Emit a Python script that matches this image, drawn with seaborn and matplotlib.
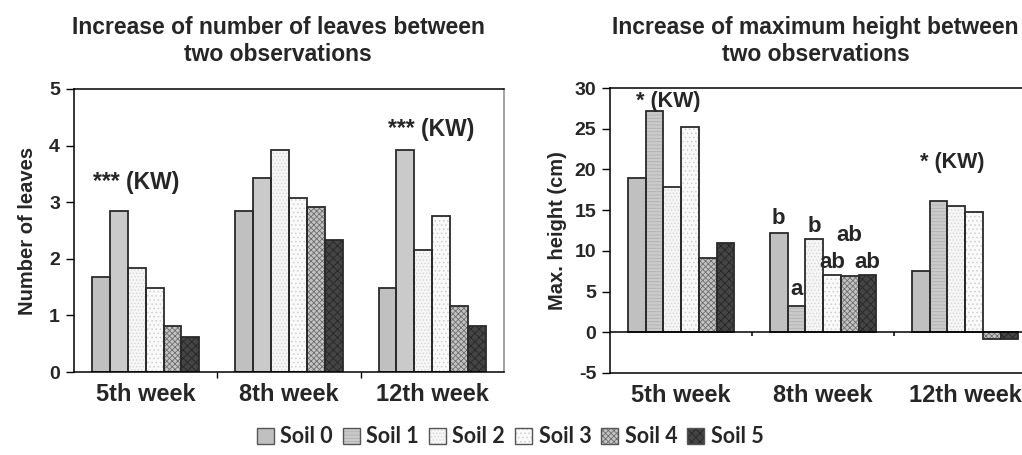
import matplotlib
matplotlib.use("Agg")
import matplotlib.pyplot as plt
from matplotlib.patches import Patch, Rectangle
from matplotlib.legend_handler import HandlerTuple
import seaborn as sns
import pandas as pd

# ---- data -------------------------------------------------------------
weeks = ["5th week", "8th week", "12th week"]
soils = ["Soil 0", "Soil 1", "Soil 2", "Soil 3", "Soil 4", "Soil 5"]

# increase of number of leaves (one value per soil)
leaves_5th = [1.67, 2.84, 1.84, 1.49, 0.82, 0.61]
leaves_8th = [2.84, 3.42, 3.92, 3.07, 2.91, 2.34]
leaves_12th = [1.49, 3.92, 2.16, 2.75, 1.17, 0.81]

# increase of maximum height, cm (one value per soil)
height_5th = [19.0, 27.2, 17.9, 25.2, 9.1, 11.0]
height_8th = [12.2, 3.2, 11.4, 7.0, 6.9, 7.0]
height_12th = [7.5, 16.1, 15.45, 14.8, -0.8, -0.8]

# post-hoc letters for the 8th week heights
letters_8th = ["b", "a", "b", "ab", "ab", "ab"]

# ---- styling ----------------------------------------------------------
sns.set_theme(style="white")
plt.rcParams["font.family"] = ["Liberation Sans", "DejaVu Sans"]
plt.rcParams["font.weight"] = "bold"
plt.rcParams["axes.labelweight"] = "bold"
plt.rcParams["axes.unicode_minus"] = False
plt.rcParams["hatch.linewidth"] = 0.6

face = ["#c0c0c0", "#cacaca", "#f6f6f6", "#fafafa", "#c4c4c4", "#444444"]
hatch_col = ["#c0c0c0", "#b2b2b2", "#d6d6d6", "#cfcfcf", "#6e6e6e", "#262626"]
hatch_left = [None, None, ".....", "....", "xxxxxx", "xxxx"]
hatch_right = [None, "-----", ".....", "....", "xxxxxx", "xxxx"]
EDGE = "#2a2a2a"


def long_frame(rows):
    recs = []
    for week, vals in zip(weeks, rows):
        for soil, v in zip(soils, vals):
            recs.append({"week": week, "soil": soil, "value": v})
    return pd.DataFrame(recs)


def draw_bars(ax, df, hatches):
    sns.barplot(data=df, x="week", y="value", hue="soil", order=weeks,
                hue_order=soils, palette=face, width=0.75, gap=0,
                errorbar=None, legend=False, ax=ax)
    for i, cont in enumerate(ax.containers):
        for p in cont.patches:
            p.set_edgecolor(hatch_col[i])
            p.set_linewidth(0)
            if hatches[i]:
                p.set_hatch(hatches[i])
            ax.add_patch(Rectangle(p.get_xy(), p.get_width(), p.get_height(),
                                   fill=False, edgecolor=EDGE, linewidth=1.3,
                                   zorder=p.get_zorder() + 0.1))


fig = plt.figure(figsize=(10.22, 4.55), dpi=100)

# ---- left panel: number of leaves ------------------------------------
ax1 = fig.add_axes([0.0724, 0.1824, 0.4207, 0.622])
draw_bars(ax1, long_frame([leaves_5th, leaves_8th, leaves_12th]), hatch_left)
ax1.set_xlim(-0.5, 2.5)
ax1.set_ylim(0, 5)
ax1.set_yticks(range(0, 6))
ax1.set_ylabel("Number of leaves", fontsize=14.5, labelpad=9)
ax1.set_xlabel("")
ax1.set_xticks(range(len(weeks)))
ax1.set_xticklabels(weeks, fontsize=17, fontweight="bold")
ax1.set_xticks([0.5, 1.5], minor=True)
ax1.tick_params(axis="x", which="major", length=0, pad=8)
ax1.tick_params(axis="x", which="minor", length=4, width=1, color="black",
                direction="out", bottom=True)
ax1.tick_params(axis="y", length=6, width=1, color="black", direction="out",
                left=True, labelsize=14, pad=4)
for s in ["left", "bottom", "top"]:
    ax1.spines[s].set_color("black")
    ax1.spines[s].set_linewidth(1.1)
ax1.spines["right"].set_color("#8a8a8a")
ax1.spines["right"].set_linewidth(1.1)
ax1.text(-0.37, 3.34, "*** (KW)", fontsize=16.5, fontweight="bold",
         ha="left", va="center")
ax1.text(1.69, 4.28, "*** (KW)", fontsize=16.5, fontweight="bold",
         ha="left", va="center")

# ---- right panel: maximum height -------------------------------------
ax2 = fig.add_axes([0.5969, 0.1804, 0.4168, 0.626])
draw_bars(ax2, long_frame([height_5th, height_8th, height_12th]), hatch_right)
ax2.set_xlim(-0.5, 2.5)
ax2.set_ylim(-5, 30)
ax2.set_yticks(range(-5, 31, 5))
ax2.set_ylabel("Max. height (cm)", fontsize=14.5, labelpad=5)
ax2.set_xlabel("")
ax2.set_xticks(range(len(weeks)))
ax2.set_xticklabels(weeks, fontsize=17, fontweight="bold")
ax2.tick_params(axis="x", length=0, pad=8)
ax2.tick_params(axis="y", length=6, width=1, color="black", direction="out",
                left=True, labelsize=14, pad=4)
for s in ["left", "bottom", "top", "right"]:
    ax2.spines[s].set_color("black")
    ax2.spines[s].set_linewidth(1.1)
ax2.axhline(0, color="black", linewidth=1.1, zorder=5)
ax2.vlines([0.5, 1.5], -0.5, 0, color="black", linewidth=1.1, zorder=5)

ax2.text(-0.317, 28.4, "* (KW)", fontsize=15.5, fontweight="bold",
         ha="left", va="center")
ax2.text(1.68, 20.8, "* (KW)", fontsize=15.5, fontweight="bold",
         ha="left", va="center")

# letters above the 8th-week bars (Soil 4 label lifted to clear neighbours)
lift = [1.8, 2.0, 1.6, 1.6, 5.0, 1.6]
for cont, val, lab, dy in zip(ax2.containers, height_8th, letters_8th, lift):
    p = cont.patches[1]
    ax2.text(p.get_x() + p.get_width() / 2, val + dy, lab, fontsize=16,
             fontweight="bold", ha="center", va="center")

# ---- titles -----------------------------------------------------------
fig.text(0.272, 0.91, "Increase of number of leaves between\ntwo observations",
         ha="center", va="center", fontsize=16.5, fontweight="bold",
         linespacing=1.2)
fig.text(0.798, 0.91, "Increase of maximum height between\ntwo observations",
         ha="center", va="center", fontsize=16.5, fontweight="bold",
         linespacing=1.2)

# ---- legend -----------------------------------------------------------
handles = []
for i in range(len(soils)):
    handles.append((Patch(facecolor=face[i], edgecolor=hatch_col[i],
                          hatch=hatch_right[i], linewidth=0),
                    Patch(fill=False, edgecolor="#555555", linewidth=1.0)))
fig.legend(handles, soils, loc="center", bbox_to_anchor=(0.499, 0.04),
           ncol=6, frameon=False, handler_map={tuple: HandlerTuple(ndivide=1)},
           handlelength=0.8, handleheight=0.8, handletextpad=0.3,
           columnspacing=0.45,
           prop={"family": ["Lato", "DejaVu Sans"], "weight": "bold",
                 "size": 15.5})

fig.savefig("out.png", dpi=100, facecolor="white")
